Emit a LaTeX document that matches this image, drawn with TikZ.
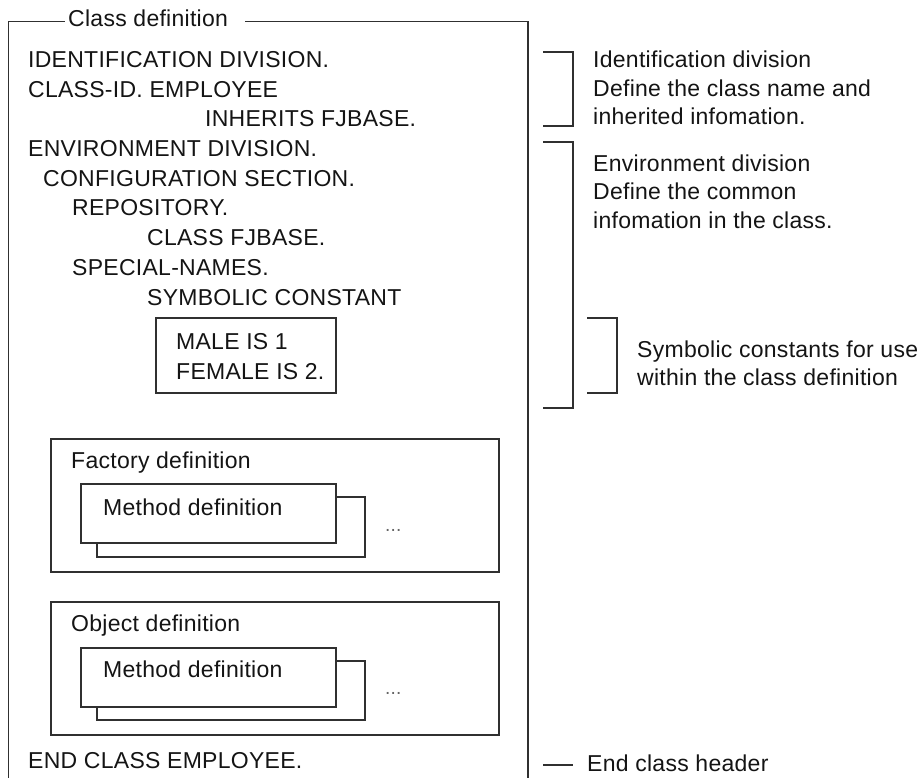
\documentclass[tikz,border=0pt]{standalone}
\usepackage{fontspec}
\setmainfont[LetterSpace=1.2]{Liberation Sans}
\definecolor{ln}{HTML}{303030}
\definecolor{tx}{HTML}{141414}
\begin{document}
\begin{tikzpicture}[x=1pt,y=-1pt,
  txt/.style={anchor=base west,inner sep=0pt,text=tx,font=\fontsize{23}{27}\selectfont},
  box/.style={draw=ln,line width=1.6pt,fill=white},
  brk/.style={draw=ln,line width=1.6pt},
  dots/.style={anchor=base west,inner sep=0pt,text=ln!75,font=\fontsize{19}{22}\selectfont}]
\useasboundingbox (0,0) rectangle (921,778);
% outer class box (open at the bottom)
\coordinate (tl) at (8.5,21.5);
\coordinate (tr) at (528,21.5);
\coordinate (bl) at (8.5,790);
\coordinate (br) at (528,790);
\coordinate (t1) at (65,21.5);
\coordinate (t2) at (245,21.5);
\draw[brk] (bl) -- (tl) -- (t1);
\draw[brk] (t2) -- (tr) -- (br);
\node[txt] (title) at (68,27) {Class definition};
% code lines
\node[txt] (l1) at (28,68) {IDENTIFICATION DIVISION.};
\node[txt] (l2) at (28,98) {CLASS-ID. EMPLOYEE};
\node[txt] (l3) at (205,127) {INHERITS FJBASE.};
\node[txt] (l4) at (28,157) {ENVIRONMENT DIVISION.};
\node[txt] (l5) at (43,187) {CONFIGURATION SECTION.};
\node[txt] (l6) at (72,216) {REPOSITORY.};
\node[txt] (l7) at (147,246) {CLASS FJBASE.};
\node[txt] (l8) at (72,276) {SPECIAL-NAMES.};
\node[txt] (l9) at (147,305) {SYMBOLIC CONSTANT};
\draw[box] (156,318) rectangle (336,393);
\node[txt] (m1) at (176,349) {MALE IS 1};
\node[txt] (m2) at (176,379) {FEMALE IS 2.};
% factory definition
\draw[box] (51,439) rectangle (499,572);
\node[txt] (fd) at (71,468) {Factory definition};
\draw[box] (97,497) rectangle (365,557);
\draw[box] (81,484) rectangle (336,543);
\node[txt] (fm) at (103,515) {Method definition};
\node[dots] (fdots) at (385,531) {...};
% object definition
\draw[box] (51,602) rectangle (499,735);
\node[txt] (od) at (71,631) {Object definition};
\draw[box] (97,661) rectangle (365,720);
\draw[box] (81,648) rectangle (336,707);
\node[txt] (om) at (103,677) {Method definition};
\node[dots] (odots) at (385,694) {...};
\node[txt] (endc) at (28,768) {END CLASS EMPLOYEE.};
% right brackets
\draw[brk] (543,52) -- (573,52) -- (573,126) -- (543,126);
\node[txt] (r1) at (593,68) {Identification division};
\node[txt] (r2) at (593,97) {Define the class name and};
\node[txt] (r3) at (593,125) {inherited infomation.};
\draw[brk] (543,142) -- (573,142) -- (573,408) -- (543,408);
\node[txt] (r4) at (593,172) {Environment division};
\node[txt] (r5) at (593,200) {Define the common};
\node[txt] (r6) at (593,229) {infomation in the class.};
\draw[brk] (587,318) -- (617,318) -- (617,393) -- (587,393);
\node[txt] (r7) at (637,357) {Symbolic constants for use};
\node[txt] (r8) at (637,385) {within the class definition};
\coordinate (e1) at (543,765);
\coordinate (e2) at (573,765);
\draw[brk] (e1) -- (e2);
\node[txt] (r9) at (587,771) {End class header};
\end{tikzpicture}
\end{document}
